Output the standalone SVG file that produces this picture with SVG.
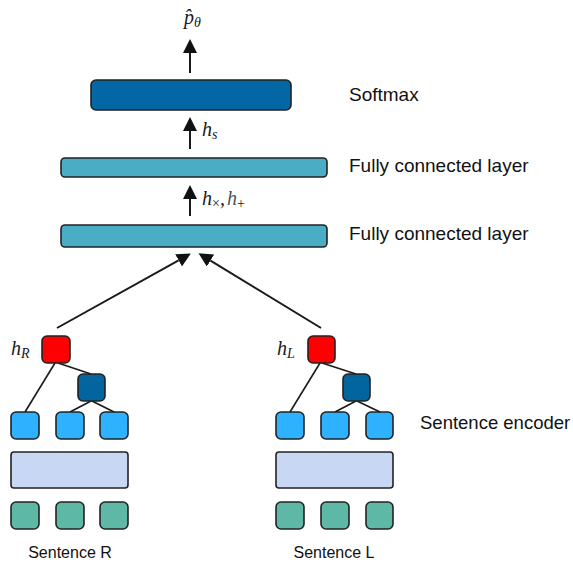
<svg xmlns="http://www.w3.org/2000/svg" width="573" height="563" viewBox="0 0 573 563">
<style>
.box{stroke:#222;stroke-width:1.6}
.soft{fill:#0367A6}
.fc{fill:#4BACC6}
.red{fill:#FF0000}
.dark{fill:#03659F}
.leaf{fill:#2EB2FF}
.wide{fill:#C8D8F4}
.green{fill:#5DB9A6}
.edge{stroke:#1a1a1a;stroke-width:2;fill:none}
.tree{stroke:#1a1a1a;stroke-width:1.6;fill:none}
.lbl{font-family:"Liberation Sans",Arial,sans-serif;fill:#111}
.math{font-family:"Liberation Serif","DejaVu Serif",serif;font-style:italic;fill:#1a1a1a}
</style>
<defs>
<marker id="ah" markerUnits="userSpaceOnUse" markerWidth="14" markerHeight="14" refX="0" refY="7" orient="auto">
<path d="M0,0 L14,7 L0,14 z" fill="#111"/>
</marker>
</defs>

<g id="connectors">
<line class="edge" x1="190" y1="73" x2="190" y2="53" marker-end="url(#ah)"/>
<line class="edge" x1="190" y1="149" x2="190" y2="131" marker-end="url(#ah)"/>
<line class="edge" x1="190" y1="216" x2="190" y2="199" marker-end="url(#ah)"/>
<line class="edge" x1="57" y1="328" x2="178.6" y2="260.3" marker-end="url(#ah)"/>
<line class="edge" x1="321" y1="328" x2="210.5" y2="260.6" marker-end="url(#ah)"/>
<line class="tree" x1="55" y1="363" x2="25" y2="412"/>
<line class="tree" x1="58" y1="363" x2="91" y2="374"/>
<line class="tree" x1="91" y1="401" x2="70" y2="412"/>
<line class="tree" x1="92" y1="401" x2="114" y2="412"/>
<line class="tree" x1="320" y1="363" x2="290" y2="412"/>
<line class="tree" x1="322" y1="363" x2="356" y2="374"/>
<line class="tree" x1="356" y1="401" x2="335" y2="412"/>
<line class="tree" x1="357" y1="401" x2="380" y2="412"/>
</g>

<g id="output-label">
<text class="math" x="184" y="24" font-size="20" fill="#3b4654">p̂<tspan font-size="14" dy="3">θ</tspan></text>
</g>

<g id="softmax">
<rect class="box soft" x="91" y="80" width="200" height="30" rx="5"/>
<text class="lbl" x="349" y="101" font-size="19">Softmax</text>
</g>

<g id="hs-label">
<text class="math" x="202" y="136" font-size="20">h<tspan font-size="14" dy="3">s</tspan></text>
</g>

<g id="fc-upper">
<rect class="box fc" x="61" y="158" width="266" height="19" rx="4"/>
<text class="lbl" x="349" y="172" font-size="19">Fully connected layer</text>
</g>

<g id="hx-label">
<text class="math" x="202" y="205" font-size="20">h<tspan font-size="14" dy="3" font-style="normal">×</tspan><tspan dy="-3">,</tspan><tspan dx="2" fill="#4a5560">h</tspan><tspan font-size="14" dy="3" font-style="normal">+</tspan></text>
</g>

<g id="fc-lower">
<rect class="box fc" x="61" y="225" width="266" height="22" rx="4"/>
<text class="lbl" x="349" y="240" font-size="19">Fully connected layer</text>
</g>

<g id="encoder-R">
<text class="math" x="11" y="355" font-size="20">h<tspan font-size="14" dy="3">R</tspan></text>
<rect class="box red" x="42" y="336" width="28" height="27" rx="5"/>
<rect class="box dark" x="78" y="374" width="27" height="27" rx="5"/>
<rect class="box leaf" x="11" y="412" width="28" height="27" rx="5"/>
<rect class="box leaf" x="56" y="412" width="28" height="27" rx="5"/>
<rect class="box leaf" x="100" y="412" width="28" height="27" rx="5"/>
<rect class="box wide" x="11" y="452" width="117" height="36" rx="3"/>
<rect class="box green" x="11" y="502" width="28" height="27" rx="5"/>
<rect class="box green" x="56" y="502" width="28" height="27" rx="5"/>
<rect class="box green" x="100" y="502" width="28" height="27" rx="5"/>
<text class="lbl" x="70" y="558" font-size="16" text-anchor="middle">Sentence R</text>
</g>

<g id="encoder-L">
<text class="math" x="277" y="355" font-size="20">h<tspan font-size="14" dy="3">L</tspan></text>
<rect class="box red" x="308" y="336" width="27" height="27" rx="5"/>
<rect class="box dark" x="343" y="374" width="27" height="27" rx="5"/>
<rect class="box leaf" x="276" y="412" width="28" height="27" rx="5"/>
<rect class="box leaf" x="321" y="412" width="28" height="27" rx="5"/>
<rect class="box leaf" x="366" y="412" width="27" height="27" rx="5"/>
<rect class="box wide" x="276" y="452" width="117" height="36" rx="3"/>
<rect class="box green" x="276" y="502" width="28" height="27" rx="5"/>
<rect class="box green" x="321" y="502" width="28" height="27" rx="5"/>
<rect class="box green" x="366" y="502" width="27" height="27" rx="5"/>
<text class="lbl" x="334" y="558" font-size="16" text-anchor="middle">Sentence L</text>
</g>

<g id="encoder-label">
<text class="lbl" x="420" y="429" font-size="18.5">Sentence encoder</text>
</g>
</svg>
